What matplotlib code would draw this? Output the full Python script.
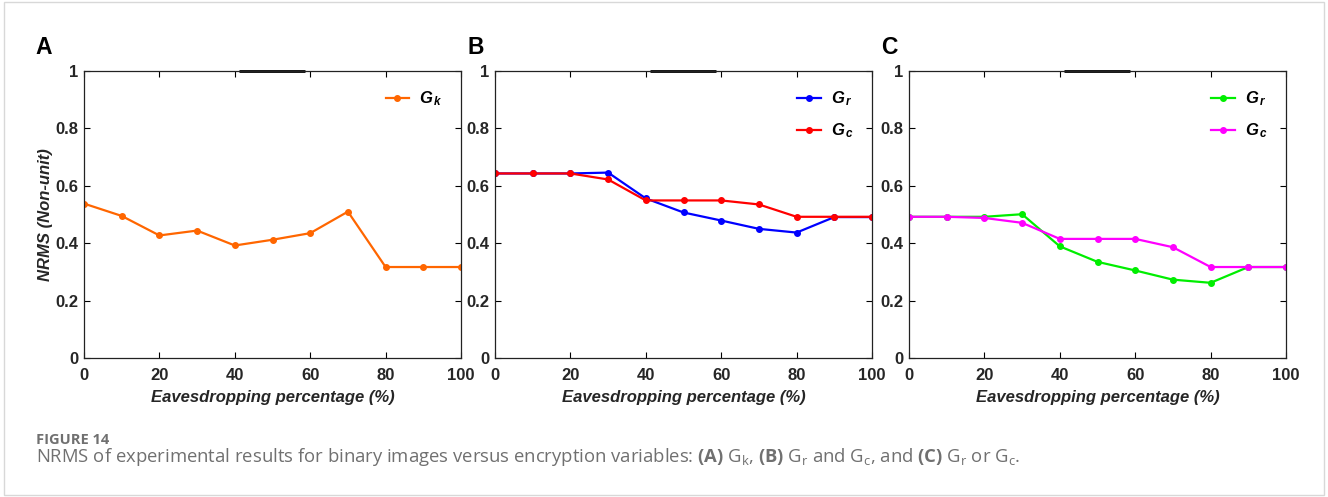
import numpy as np
import matplotlib.pyplot as plt
from matplotlib.patches import Rectangle

plt.rcParams['font.family'] = ['Liberation Sans', 'DejaVu Sans']
plt.rcParams['mathtext.fontset'] = 'custom'
plt.rcParams['mathtext.it'] = 'Liberation Sans:bold:italic'
plt.rcParams['mathtext.rm'] = 'Open Sans'
plt.rcParams['mathtext.bf'] = 'Open Sans:bold'

# ---------------------------------------------------------------------------
# Data
# ---------------------------------------------------------------------------
eaves_pct = [0, 10, 20, 30, 40, 50, 60, 70, 80, 90, 100]

gk_a = [0.538, 0.495, 0.427, 0.444, 0.392, 0.412, 0.435, 0.510, 0.317, 0.317, 0.317]

gr_b = [0.643, 0.643, 0.643, 0.646, 0.556, 0.507, 0.479, 0.450, 0.437, 0.491, 0.491]
gc_b = [0.643, 0.643, 0.643, 0.622, 0.549, 0.549, 0.549, 0.535, 0.492, 0.492, 0.492]

gr_c = [0.492, 0.492, 0.492, 0.501, 0.389, 0.335, 0.305, 0.273, 0.262, 0.317, 0.317]
gc_c = [0.492, 0.492, 0.488, 0.471, 0.415, 0.415, 0.415, 0.386, 0.317, 0.317, 0.317]

y_ticks = [0, 0.2, 0.4, 0.6, 0.8, 1]
y_ticklabels = ['0', '0.2', '0.4', '0.6', '0.8', '1']
x_ticks = [0, 20, 40, 60, 80, 100]

panels = [
    ('A', [(gk_a, '#FF6600', r'$G_{\,k}$')]),
    ('B', [(gr_b, '#0000FF', r'$G_{\,r}$'), (gc_b, '#FF0000', r'$G_{\,c}$')]),
    ('C', [(gr_c, '#00EE00', r'$G_{\,r}$'), (gc_c, '#FF00FF', r'$G_{\,c}$')]),
]

W, H = 1328, 497
fig = plt.figure(figsize=(W / 100, H / 100), dpi=100)

# figure frame
fig.patches.append(Rectangle((4 / W, 2 / H), (W - 8) / W, (H - 4) / H, transform=fig.transFigure,
                             fill=False, edgecolor='#d8d8d8', linewidth=1))

ax_left = [84, 495, 909]
ax_w = 377
ax_top, ax_bot = 71, 358
ax_h = ax_bot - ax_top

for (label, series), left in zip(panels, ax_left):
    ax = fig.add_axes([left / W, 1 - ax_bot / H, ax_w / W, ax_h / H])
    for vals, col, name in series:
        ax.plot(eaves_pct, vals, color=col, lw=1.6, marker='o', ms=4, label=name)
    ax.set_xlim(0, 100)
    ax.set_ylim(0, 1)
    ax.set_xticks(x_ticks)
    ax.set_yticks(y_ticks)
    ax.set_yticklabels(y_ticklabels)
    ax.tick_params(direction='in', top=True, right=True, length=4, width=0.8,
                   labelsize=12)
    ax.tick_params(axis='x', pad=7.5)
    ax.tick_params(axis='y', pad=4)
    for t in ax.get_xticklabels() + ax.get_yticklabels():
        t.set_fontweight('bold')
        t.set_color('#262626')
    for s in ax.spines.values():
        s.set_linewidth(0.9)
        s.set_color('#222222')
    ax.set_xlabel('Eavesdropping percentage (%)', fontsize=12, fontweight='bold',
                  fontstyle='italic', color='#262626', labelpad=5)
    if label == 'A':
        ax.set_ylabel('NRMS (Non-unit)', fontsize=12, fontweight='bold',
                      fontstyle='italic', color='#262626', labelpad=2)
    # short dark bar on the top edge
    ax.plot([0.412, 0.587], [1, 1], transform=ax.transAxes, color='black', lw=2,
            clip_on=False, solid_capstyle='butt')
    ax.legend(loc='upper right', frameon=False, fontsize=12, handlelength=1.4,
              borderaxespad=0.7, labelspacing=0.8, handletextpad=0.6)
    lx = 35 if label == 'A' else left - 28
    ax.text((lx - left) / ax_w, 1 + (ax_top - 47.5) / ax_h, label, transform=ax.transAxes,
            fontsize=16.5, fontweight='bold', va='center', ha='left', color='black')

fig.text(36 / W, 1 - 444 / H, 'FIGURE 14', fontsize=10.5, fontweight='bold', color='#707070',
         family='Open Sans', va='baseline')
fig.text(36 / W, 1 - 462 / H,
         r'NRMS of experimental results for binary images versus encryption variables: '
         r'$\mathbf{(A)}$ G$_\mathrm{k}$, $\mathbf{(B)}$ G$_\mathrm{r}$ and G$_\mathrm{c}$, '
         r'and $\mathbf{(C)}$ G$_\mathrm{r}$ or G$_\mathrm{c}$.',
         fontsize=13.3, color='#707070', family='Open Sans', va='baseline')

fig.savefig('out.png', dpi=100)
